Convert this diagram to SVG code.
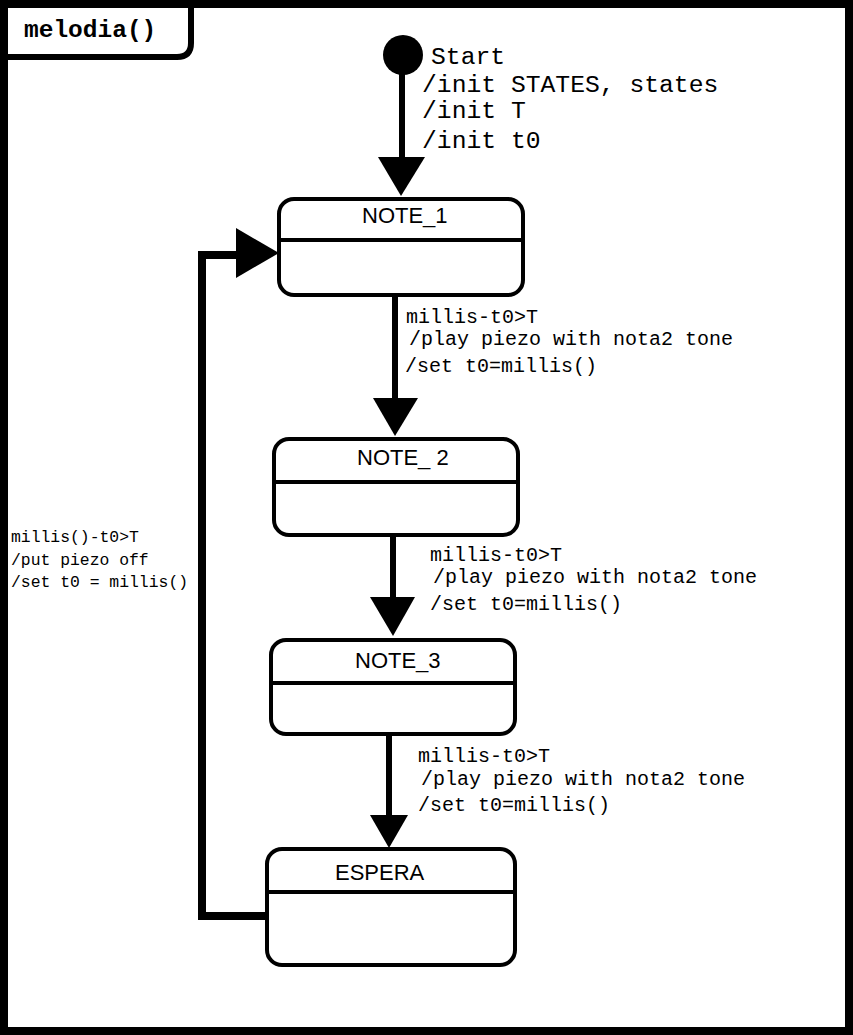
<svg xmlns="http://www.w3.org/2000/svg" width="853" height="1035" viewBox="0 0 853 1035">
<style>
.frame{fill:#fff;stroke:#000;stroke-width:8}
.tab{fill:none;stroke:#000;stroke-width:6}
.state{fill:#fff;stroke:#000;stroke-width:4}
.div{stroke:#000;stroke-width:4}
.conn{fill:none;stroke:#000;stroke-width:6}
.loop{fill:none;stroke:#000;stroke-width:8}
.head{fill:#000}
.title{font-family:"Liberation Mono",monospace;font-weight:bold;font-size:24.5px;fill:#000}
.name{font-family:"Liberation Sans",Arial,sans-serif;font-size:22px;fill:#000}
.big{font-family:"Liberation Mono",monospace;font-size:24.7px;fill:#000}
.lbl{font-family:"Liberation Mono",monospace;font-size:20px;fill:#000}
.sml{font-family:"Liberation Mono",monospace;font-size:16.4px;fill:#000}
</style>
<rect class="frame" x="4" y="4" width="845" height="1027"/>
<g id="frame-title">
<path class="tab" d="M191,8 V43 Q191,57 177,57 H8"/>
<text class="title" x="24" y="37">melodia()</text>
</g>
<g id="initial">
<circle cx="403" cy="55" r="20" fill="#000"/>
</g>
<g id="NOTE_1">
<rect class="state" x="279" y="199" width="244" height="96" rx="15"/>
<line class="div" x1="279" y1="240" x2="523" y2="240"/>
<text class="name" x="362" y="223">NOTE_1</text>
</g>
<g id="NOTE_2">
<rect class="state" x="274" y="439" width="244" height="96" rx="15"/>
<line class="div" x1="274" y1="482" x2="518" y2="482"/>
<text class="name" x="357" y="465">NOTE_ 2</text>
</g>
<g id="NOTE_3">
<rect class="state" x="271" y="640" width="244" height="94" rx="15"/>
<line class="div" x1="271" y1="683" x2="515" y2="683"/>
<text class="name" x="355" y="668">NOTE_3</text>
</g>
<g id="ESPERA">
<rect class="state" x="267" y="849" width="248" height="116" rx="15"/>
<line class="div" x1="267" y1="892" x2="515" y2="892"/>
<text class="name" x="335" y="880">ESPERA</text>
</g>
<g id="connectors">
<line class="conn" x1="402" y1="74" x2="402" y2="160"/>
<polygon class="head" points="378,157 425,157 401,196"/>
<text class="big" x="431" y="64">Start</text>
<text class="big" x="422" y="92">/init STATES, states</text>
<text class="big" x="422" y="118">/init T</text>
<text class="big" x="422" y="148">/init t0</text>

<line class="conn" x1="395" y1="295" x2="395" y2="402"/>
<polygon class="head" points="373,398 418,398 395,436"/>
<text class="lbl" x="406" y="323">millis-t0&gt;T</text>
<text class="lbl" x="409" y="345">/play piezo with nota2 tone</text>
<text class="lbl" x="405" y="372">/set t0=millis()</text>

<line class="conn" x1="393" y1="535" x2="393" y2="600"/>
<polygon class="head" points="370,597 415,597 393,636"/>
<text class="lbl" x="430" y="561">millis-t0&gt;T</text>
<text class="lbl" x="433" y="583">/play piezo with nota2 tone</text>
<text class="lbl" x="430" y="610">/set t0=millis()</text>

<line class="conn" x1="389" y1="734" x2="389" y2="818"/>
<polygon class="head" points="370,815 408,815 389,848"/>
<text class="lbl" x="418" y="762">millis-t0&gt;T</text>
<text class="lbl" x="421" y="785">/play piezo with nota2 tone</text>
<text class="lbl" x="418" y="811">/set t0=millis()</text>

<polyline class="loop" points="267,916 202,916 202,255 240,255"/>
<polygon class="head" points="236,228 236,278 279,253"/>
<text class="sml" x="11" y="542">millis()-t0&gt;T</text>
<text class="sml" x="11" y="565">/put piezo off</text>
<text class="sml" x="11" y="587">/set t0 = millis()</text>
</g>
</svg>
